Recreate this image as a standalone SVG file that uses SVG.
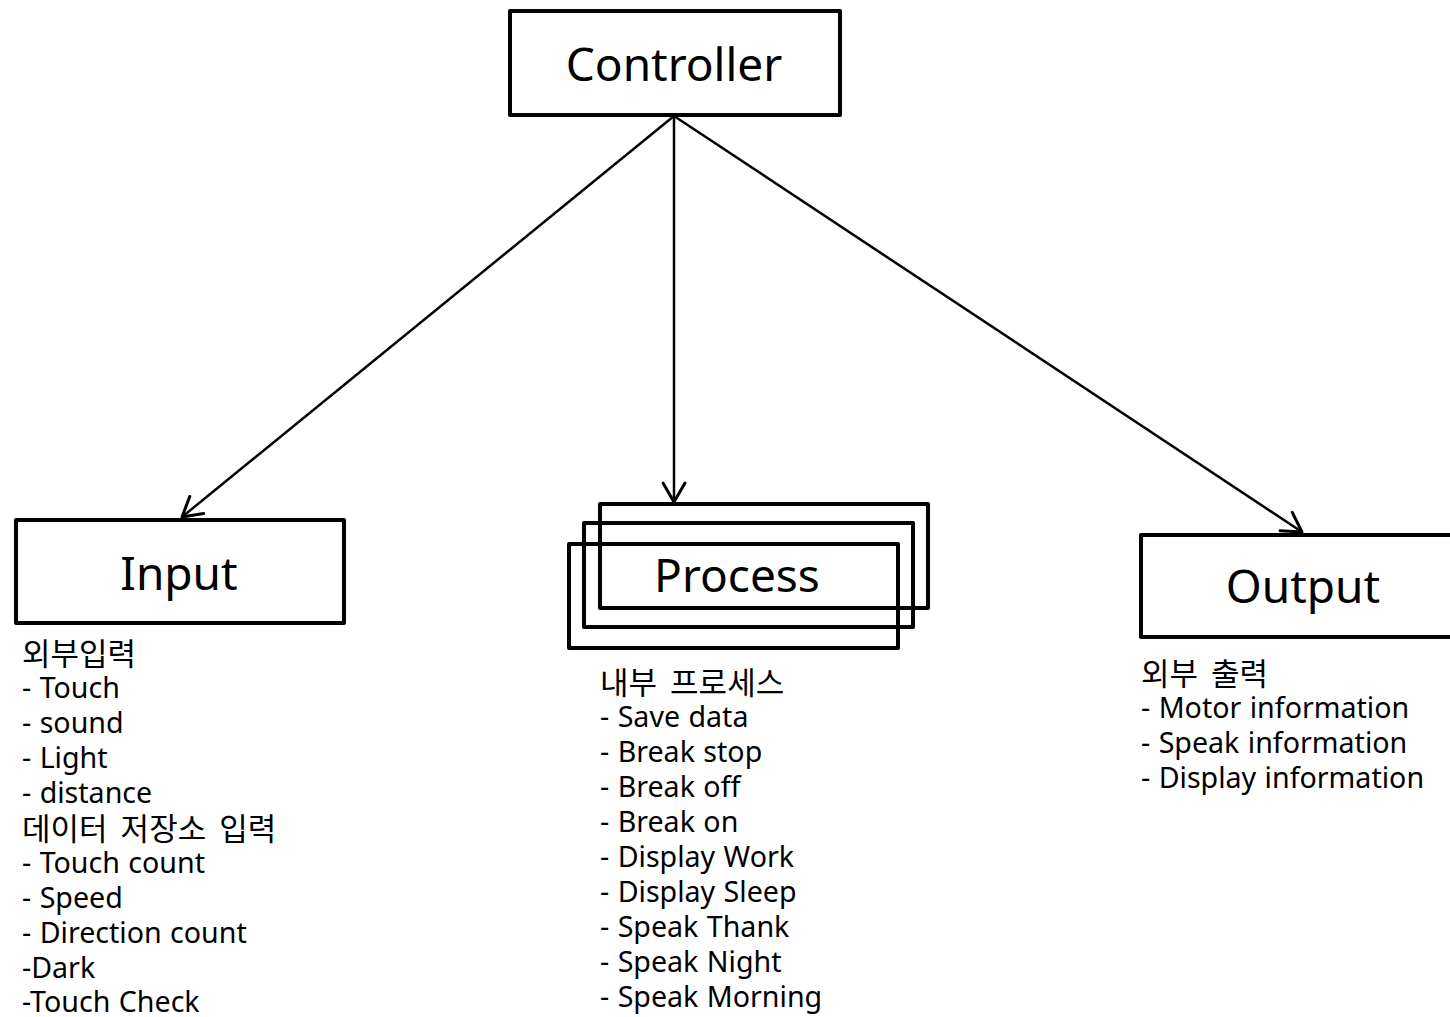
<svg xmlns="http://www.w3.org/2000/svg" width="1450" height="1017" viewBox="0 0 1450 1017">
<defs>
<style>
.box{fill:none;stroke:#000;stroke-width:4;stroke-linejoin:round}
.title{font-family:"Noto Sans","Noto Sans CJK KR",sans-serif;font-size:46px;fill:#000;text-anchor:middle}
.list{font-family:"Noto Sans","Noto Sans CJK KR",sans-serif;font-size:28.6px;word-spacing:1px;fill:#000}
.ko{font-size:31px;word-spacing:5px}
.conn{fill:none;stroke:#000;stroke-width:2.5}
</style>
<marker id="arrow" markerUnits="userSpaceOnUse" markerWidth="30" markerHeight="30" viewBox="-25 -15 30 30" refX="0" refY="0" orient="auto">
<path d="M -19,-11 L 0,0 L -19,11" fill="none" stroke="#000" stroke-width="3" stroke-linejoin="round" stroke-linecap="round"/>
</marker>
</defs>
<rect width="1450" height="1017" fill="#fff"/>
<g id="connectors">
<line class="conn" x1="674" y1="116" x2="182" y2="517" marker-end="url(#arrow)"/>
<line class="conn" x1="674" y1="116" x2="674" y2="502" marker-end="url(#arrow)"/>
<line class="conn" x1="674" y1="116" x2="1302" y2="532" marker-end="url(#arrow)"/>
</g>
<g id="controller">
<rect class="box" x="510" y="11" width="330" height="104"/>
<text class="title" x="674" y="81">Controller</text>
</g>
<g id="input">
<rect class="box" x="16" y="520" width="328" height="103"/>
<text class="title" x="179" y="590">Input</text>
<text class="list">
<tspan class="ko" x="22" y="665">외부입력</tspan>
<tspan x="22" y="698">- Touch</tspan>
<tspan x="22" y="733">- sound</tspan>
<tspan x="22" y="768">- Light</tspan>
<tspan x="22" y="803">- distance</tspan>
<tspan class="ko" x="22" y="840">데이터 저장소 입력</tspan>
<tspan x="22" y="873">- Touch count</tspan>
<tspan x="22" y="908">- Speed</tspan>
<tspan x="22" y="943">- Direction count</tspan>
<tspan x="22" y="978">-Dark</tspan>
<tspan x="22" y="1012">-Touch Check</tspan>
</text>
</g>
<g id="process">
<rect class="box" x="600" y="504" width="328" height="104"/>
<rect class="box" x="584" y="523" width="329" height="104"/>
<rect class="box" x="569" y="544" width="329" height="104"/>
<text class="title" x="737" y="592">Process</text>
<text class="list">
<tspan class="ko" x="600" y="694">내부 프로세스</tspan>
<tspan x="600" y="727">- Save data</tspan>
<tspan x="600" y="762">- Break stop</tspan>
<tspan x="600" y="797">- Break off</tspan>
<tspan x="600" y="832">- Break on</tspan>
<tspan x="600" y="867">- Display Work</tspan>
<tspan x="600" y="902">- Display Sleep</tspan>
<tspan x="600" y="937">- Speak Thank</tspan>
<tspan x="600" y="972">- Speak Night</tspan>
<tspan x="600" y="1007">- Speak Morning</tspan>
</text>
</g>
<g id="output">
<rect class="box" x="1141" y="535" width="330" height="102"/>
<text class="title" x="1303" y="603">Output</text>
<text class="list">
<tspan class="ko" x="1141" y="685">외부 출력</tspan>
<tspan x="1141" y="718">- Motor information</tspan>
<tspan x="1141" y="753">- Speak information</tspan>
<tspan x="1141" y="788">- Display information</tspan>
</text>
</g>
</svg>
